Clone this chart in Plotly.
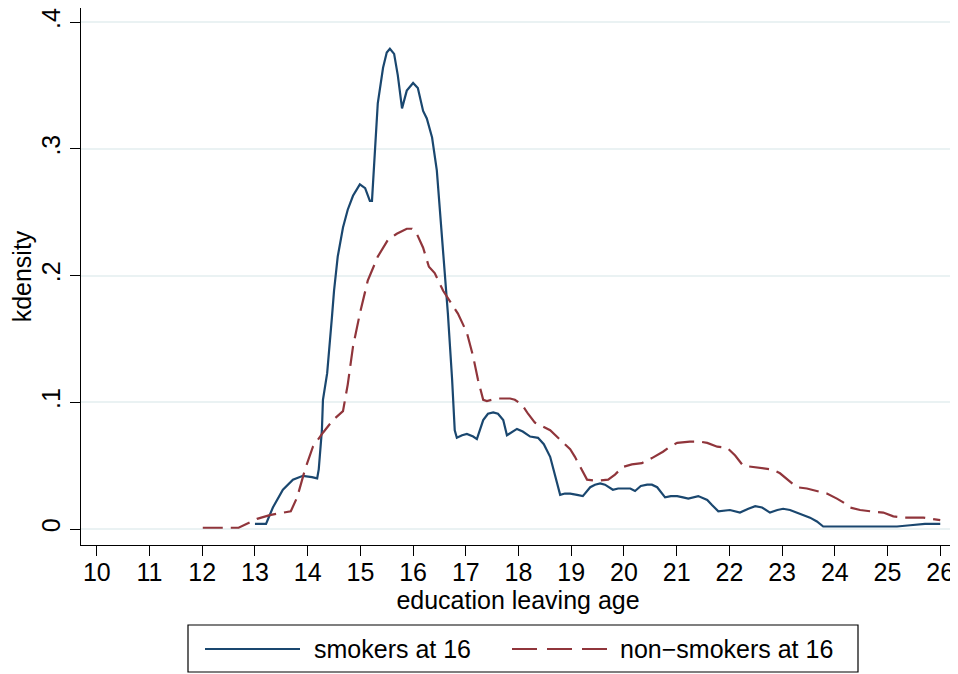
import plotly.graph_objects as go

# ---------------- data ----------------
smokers_x = [13.00, 13.21, 13.34, 13.53, 13.72, 13.91, 14.08, 14.18, 14.21, 14.27, 14.29, 14.37,
             14.46, 14.50, 14.57, 14.67, 14.76, 14.86, 14.99, 15.09, 15.18, 15.22, 15.28, 15.33,
             15.43, 15.50, 15.56, 15.64, 15.71, 15.79, 15.88, 16.00, 16.09, 16.19, 16.26, 16.36,
             16.45, 16.51, 16.57, 16.66, 16.74, 16.79, 16.83, 16.93, 17.02, 17.14, 17.21, 17.33,
             17.42, 17.52, 17.61, 17.71, 17.78, 17.88, 17.97, 18.08, 18.22, 18.37, 18.48, 18.60,
             18.69, 18.79, 18.88, 18.98, 19.11, 19.22, 19.36, 19.45, 19.55, 19.64, 19.79, 19.89,
             19.98, 20.12, 20.21, 20.32, 20.44, 20.53, 20.63, 20.78, 20.89, 21.01, 21.12, 21.22,
             21.41, 21.58, 21.67, 21.79, 22.01, 22.20, 22.36, 22.49, 22.62, 22.77, 22.91, 23.02,
             23.15, 23.28, 23.42, 23.53, 23.66, 23.78, 24.29, 25.18, 25.43, 25.71, 26.00]
smokers_y = [0.004, 0.004, 0.017, 0.031, 0.039, 0.042, 0.041, 0.040, 0.047, 0.078, 0.102, 0.123,
             0.167, 0.188, 0.215, 0.238, 0.252, 0.263, 0.272, 0.269, 0.259, 0.259, 0.301, 0.336,
             0.364, 0.376, 0.379, 0.375, 0.358, 0.332, 0.346, 0.352, 0.348, 0.330, 0.324, 0.309,
             0.283, 0.252, 0.222, 0.170, 0.118, 0.078, 0.072, 0.074, 0.075, 0.073, 0.071, 0.086,
             0.091, 0.092, 0.091, 0.086, 0.074, 0.077, 0.079, 0.077, 0.073, 0.072, 0.067, 0.057,
             0.043, 0.027, 0.028, 0.028, 0.027, 0.026, 0.033, 0.035, 0.036, 0.035, 0.031, 0.032,
             0.032, 0.032, 0.030, 0.034, 0.035, 0.035, 0.033, 0.025, 0.026, 0.026, 0.025, 0.024,
             0.026, 0.023, 0.019, 0.014, 0.015, 0.013, 0.016, 0.018, 0.017, 0.013, 0.015, 0.016,
             0.015, 0.013, 0.011, 0.009, 0.006, 0.002, 0.002, 0.002, 0.003, 0.004, 0.004]

nonsmokers_x = [12.01, 12.56, 12.69, 13.04, 13.28, 13.68, 13.80, 13.95, 14.10, 14.29, 14.48, 14.67,
                14.76, 14.86, 14.99, 15.14, 15.33, 15.52, 15.69, 15.88, 15.98, 16.07, 16.19, 16.30,
                16.41, 16.57, 16.74, 16.85, 17.02, 17.14, 17.23, 17.33, 17.40, 17.59, 17.74, 17.84,
                17.93, 18.07, 18.18, 18.31, 18.60, 18.84, 18.98, 19.07, 19.19, 19.30, 19.49, 19.70,
                19.83, 19.98, 20.15, 20.34, 20.53, 20.74, 20.87, 21.01, 21.25, 21.44, 21.58, 21.77,
                21.96, 22.11, 22.26, 22.45, 22.64, 22.81, 22.96, 23.11, 23.28, 23.47, 23.66, 23.85,
                24.04, 24.16, 24.29, 24.48, 24.67, 24.92, 25.11, 25.30, 25.68, 26.00]
nonsmokers_y = [0.001, 0.001, 0.001, 0.008, 0.011, 0.014, 0.025, 0.047, 0.065, 0.076, 0.086, 0.093,
                0.114, 0.144, 0.170, 0.196, 0.215, 0.228, 0.233, 0.237, 0.237, 0.233, 0.222, 0.207,
                0.202, 0.188, 0.177, 0.170, 0.155, 0.136, 0.118, 0.102, 0.101, 0.103, 0.103, 0.103,
                0.102, 0.098, 0.091, 0.084, 0.078, 0.069, 0.063, 0.057, 0.047, 0.039, 0.038, 0.039,
                0.043, 0.049, 0.051, 0.052, 0.056, 0.061, 0.065, 0.068, 0.069, 0.069, 0.068, 0.065,
                0.064, 0.058, 0.050, 0.049, 0.048, 0.047, 0.044, 0.039, 0.033, 0.032, 0.030, 0.028,
                0.024, 0.021, 0.017, 0.015, 0.014, 0.013, 0.010, 0.009, 0.009, 0.007]

series_names = ["smokers at 16", "non\u2212smokers at 16"]
x_ticks = list(range(10, 27))
y_tickvals = [0, 0.1, 0.2, 0.3, 0.4]
y_ticktext = ["0", ".1", ".2", ".3", ".4"]
x_title = "education leaving age"
y_title = "kdensity"

NAVY = "#1a476f"
MAROON = "#90353b"
GRID = "#eaf2f3"
FONT = "Liberation Sans, Arial, sans-serif"
FS = 25

# The page body has an 8px default margin, so the figure is 8px smaller
# than the window and all page positions below are shifted by 8px.
OFF = 8
W, H = 958 - OFF, 674 - OFF
ML, MR, MT, MB = 81 - OFF, 3, 0, H - (545 - OFF)

fig = go.Figure()
fig.add_trace(go.Scatter(x=smokers_x, y=smokers_y, mode="lines", name=series_names[0],
                         line=dict(color=NAVY, width=2.2), showlegend=False))
fig.add_trace(go.Scatter(x=nonsmokers_x, y=nonsmokers_y, mode="lines", name=series_names[1],
                         line=dict(color=MAROON, width=2.2, dash="20px,8px"), showlegend=False))

# ---- legend drawn as a Stata-style box (layout decoration) ----
pw, ph = W - ML - MR, H - MT - MB
def px(xp):
    return (xp - OFF - ML) / pw
def py(yp):
    return (H - MB - (yp - OFF)) / ph

shapes = [
    dict(type="rect", xref="paper", yref="paper", x0=px(188), x1=px(858), y0=py(672), y1=py(625),
         line=dict(color="black", width=1.2), fillcolor="white", layer="above"),
    dict(type="line", xref="paper", yref="paper", x0=px(205), x1=px(300), y0=py(649), y1=py(649),
         line=dict(color=NAVY, width=2.2)),
    dict(type="line", xref="paper", yref="paper", x0=px(512), x1=px(607), y0=py(649), y1=py(649),
         line=dict(color=MAROON, width=2.2, dash="25px,10px")),
]
annotations = [
    dict(xref="paper", yref="paper", x=px(312), y=py(649), text=series_names[0], showarrow=False,
         xanchor="left", yanchor="middle", font=dict(family=FONT, size=FS, color="black")),
    dict(xref="paper", yref="paper", x=px(618), y=py(649), text=series_names[1], showarrow=False,
         xanchor="left", yanchor="middle", font=dict(family=FONT, size=FS, color="black")),
]

fig.update_layout(
    width=W, height=H,
    margin=dict(l=ML, r=MR, t=MT, b=MB, autoexpand=False),
    paper_bgcolor="white", plot_bgcolor="white",
    font=dict(family=FONT, size=FS, color="black"),
    shapes=shapes, annotations=annotations,
    showlegend=False,
)
fig.update_xaxes(
    range=[9.70, 26.28], tickvals=x_ticks, ticktext=[str(t) for t in x_ticks],
    showgrid=False, zeroline=False, showline=True, linecolor="black", linewidth=1.3,
    ticks="outside", ticklen=10, tickwidth=1.3, tickcolor="black", automargin=False,
    ticklabelstandoff=-5, ticklabeloverflow="allow",
    tickfont=dict(family=FONT, size=FS, color="black"),
    title=dict(text=x_title, font=dict(family=FONT, size=FS, color="black"), standoff=0),
)
fig.update_yaxes(
    range=[-0.0126, 0.4112], tickvals=y_tickvals, ticktext=y_ticktext, tickangle=-90,
    showgrid=True, gridcolor=GRID, gridwidth=1.5, zeroline=False,
    showline=True, linecolor="black", linewidth=1.3, automargin=False,
    ticklabeloverflow="allow",
    ticks="outside", ticklen=10, tickwidth=1.3, tickcolor="black",
    tickfont=dict(family=FONT, size=FS, color="black"),
    title=dict(text=y_title, font=dict(family=FONT, size=FS, color="black"), standoff=0),
)

fig.write_html("out.html")
